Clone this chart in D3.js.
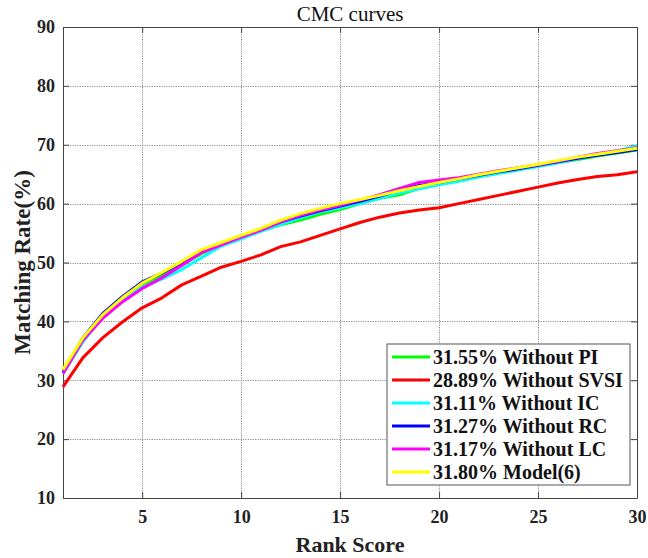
<!DOCTYPE html>
<html>
<head>
<meta charset="utf-8">
<script src="https://cdn.jsdelivr.net/npm/d3@7"></script>
<style>
  body { margin: 0; background: #fff; }
  svg { display: block; font-family: "Liberation Serif", "Times New Roman", serif; }
</style>
</head>
<body>
<div class="chart-area"></div>
<script>
// CMC curves - line chart

// ---- Data ----
const ranks = d3.range(1, 31);
const xTicks = [5, 10, 15, 20, 25, 30];
const yTicks = [10, 20, 30, 40, 50, 60, 70, 80, 90];

const withoutPI   = [31.55, 37.0, 41.0, 43.8, 46.2, 47.8, 49.6, 51.5, 53.0, 54.3, 55.4, 56.4, 57.2, 58.2, 59.0, 60.0, 60.9, 61.5, 62.6, 63.4, 64.0, 64.7, 65.3, 65.9, 66.5, 67.0, 67.5, 68.1, 68.6, 69.1];
const withoutSVSI = [28.89, 33.8, 37.2, 39.9, 42.3, 44.0, 46.2, 47.7, 49.2, 50.2, 51.3, 52.7, 53.5, 54.6, 55.7, 56.8, 57.7, 58.4, 58.9, 59.3, 60.0, 60.7, 61.4, 62.1, 62.8, 63.5, 64.1, 64.6, 64.9, 65.4];
const withoutIC   = [31.11, 36.5, 40.8, 43.5, 45.8, 47.2, 48.8, 50.8, 52.8, 54.0, 55.3, 56.5, 57.6, 58.6, 59.3, 60.0, 60.9, 61.8, 62.5, 63.2, 63.8, 64.5, 65.1, 65.7, 66.3, 66.9, 67.6, 68.3, 69.0, 69.8];
const withoutRC   = [31.27, 37.2, 41.3, 44.2, 46.7, 48.2, 50.0, 51.9, 53.2, 54.4, 55.6, 56.9, 57.9, 58.8, 59.6, 60.4, 61.3, 62.3, 63.1, 63.6, 64.2, 64.8, 65.4, 65.9, 66.5, 67.1, 67.7, 68.2, 68.7, 69.2];
const withoutLC   = [31.17, 36.8, 40.5, 43.3, 45.6, 47.4, 49.5, 51.7, 53.0, 54.3, 55.5, 56.9, 58.0, 58.9, 59.7, 60.6, 61.5, 62.6, 63.6, 64.0, 64.4, 65.0, 65.6, 66.1, 66.6, 67.2, 67.9, 68.5, 69.0, 69.5];
const model6      = [31.8, 37.2, 41.1, 44.0, 46.5, 48.3, 50.2, 52.2, 53.4, 54.6, 55.8, 57.2, 58.3, 59.2, 60.0, 60.7, 61.4, 62.2, 62.9, 63.6, 64.2, 64.9, 65.5, 66.1, 66.7, 67.3, 67.9, 68.4, 68.9, 69.4];

const seriesNames  = ["31.55% Without PI", "28.89% Without SVSI", "31.11% Without IC", "31.27% Without RC", "31.17% Without LC", "31.80% Model(6)"];
const seriesValues = [withoutPI, withoutSVSI, withoutIC, withoutRC, withoutLC, model6];
const seriesColors = ["#00ff00", "#ff0000", "#00ffff", "#0000ff", "#ff00ff", "#ffff00"];

// ---- Sizes ----
const svgWidth = 648, svgHeight = 558;
const plot = { left: 63, top: 27, right: 637, bottom: 498 };
const tickLen = 6;

const svg = d3.select(".chart-area").append("svg")
    .attr("width", svgWidth)
    .attr("height", svgHeight);

const x = d3.scaleLinear().domain([1, 30]).range([plot.left, plot.right]);
const y = d3.scaleLinear().domain([10, 90]).range([plot.bottom, plot.top]);

// grid (dotted)
const grid = svg.append("g").attr("class", "grid")
    .attr("stroke", "#8a8a8a")
    .attr("stroke-width", 1)
    .attr("stroke-dasharray", "1.2,1.2");

grid.selectAll("line.vx")
    .data(xTicks.filter(d => d < 30))
    .join("line")
    .attr("class", "vx")
    .attr("x1", d => Math.round(x(d)) + 0.5).attr("x2", d => Math.round(x(d)) + 0.5)
    .attr("y1", plot.top).attr("y2", plot.bottom);

grid.selectAll("line.hy")
    .data(yTicks.filter(d => d > 10 && d < 90))
    .join("line")
    .attr("class", "hy")
    .attr("y1", d => Math.round(y(d)) + 0.5).attr("y2", d => Math.round(y(d)) + 0.5)
    .attr("x1", plot.left).attr("x2", plot.right);

// axes (box with inward ticks on all sides)
const axisColor = "#444";

const xBottom = svg.append("g")
    .attr("transform", `translate(0, ${plot.bottom})`)
    .call(d3.axisBottom(x).tickValues(xTicks).tickSizeInner(-tickLen).tickSizeOuter(0).tickPadding(12));
const xTop = svg.append("g")
    .attr("transform", `translate(0, ${plot.top})`)
    .call(d3.axisTop(x).tickValues(xTicks).tickSizeInner(-tickLen).tickSizeOuter(0).tickFormat(""));
const yLeft = svg.append("g")
    .attr("transform", `translate(${plot.left}, 0)`)
    .call(d3.axisLeft(y).tickValues(yTicks).tickSizeInner(-tickLen).tickSizeOuter(0).tickPadding(8));
const yRight = svg.append("g")
    .attr("transform", `translate(${plot.right}, 0)`)
    .call(d3.axisRight(y).tickValues(yTicks).tickSizeInner(-tickLen).tickSizeOuter(0).tickFormat(""));

[xBottom, xTop, yLeft, yRight].forEach(g => {
    g.attr("font-family", "Liberation Serif");
    g.select(".domain").attr("stroke", axisColor);
    g.selectAll(".tick line").attr("stroke", axisColor);
    g.selectAll(".tick text")
        .attr("fill", "#222")
        .style("font-family", "'Liberation Serif', serif")
        .style("font-weight", "bold")
        .style("font-size", "18px");
});
xBottom.selectAll(".tick text").attr("dy", "0.71em");

// lines
const line = d3.line()
    .x((d, i) => x(ranks[i]))
    .y(d => y(d));

svg.append("g").attr("class", "lines")
    .selectAll("path")
    .data(seriesValues)
    .join("path")
    .attr("d", d => line(d))
    .attr("fill", "none")
    .attr("stroke", (d, i) => seriesColors[i])
    .attr("stroke-width", 3)
    .attr("stroke-linejoin", "round");

// title
svg.append("text")
    .attr("x", (plot.left + plot.right) / 2)
    .attr("y", 21)
    .attr("text-anchor", "middle")
    .style("font-size", "21px")
    .attr("fill", "#111")
    .text("CMC curves");

// axis labels
svg.append("text")
    .attr("x", (plot.left + plot.right) / 2)
    .attr("y", 552)
    .attr("text-anchor", "middle")
    .style("font-size", "22px")
    .style("font-weight", "bold")
    .attr("fill", "#222")
    .text("Rank Score");

svg.append("text")
    .attr("transform", `translate(30, ${(plot.top + plot.bottom) / 2}) rotate(-90)`)
    .attr("text-anchor", "middle")
    .style("font-size", "23px")
    .style("font-weight", "bold")
    .attr("fill", "#222")
    .text("Matching Rate(%)");

// legend
const legend = svg.append("g")
    .attr("class", "legend")
    .attr("transform", "translate(387, 344)");

legend.append("rect")
    .attr("width", 243)
    .attr("height", 141)
    .attr("fill", "#fff")
    .attr("stroke", "#555")
    .attr("stroke-width", 1);

const rows = legend.selectAll("g.row")
    .data(seriesNames)
    .join("g")
    .attr("class", "row")
    .attr("transform", (d, i) => `translate(0, ${13 + i * 23})`);

rows.append("line")
    .attr("x1", 5).attr("x2", 43)
    .attr("stroke", (d, i) => seriesColors[i])
    .attr("stroke-width", 3);

rows.append("text")
    .attr("x", 46)
    .attr("dy", "0.35em")
    .style("font-size", "20px")
    .style("font-weight", "bold")
    .attr("fill", "#111")
    .text(d => d);
</script>
</body>
</html>
